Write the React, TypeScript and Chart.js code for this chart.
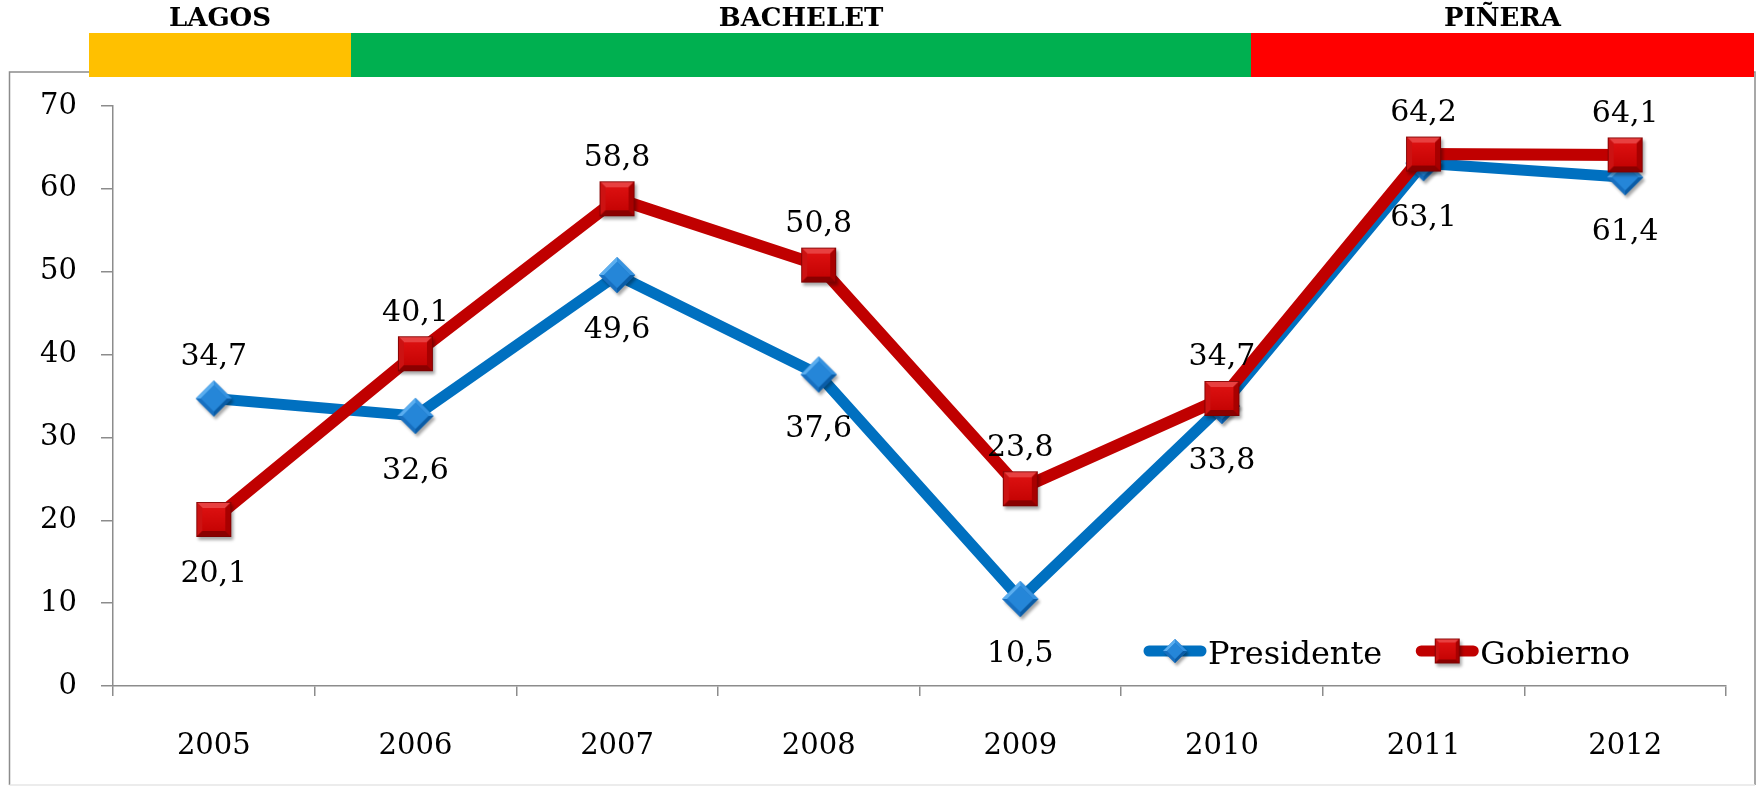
import React, { useEffect, useRef } from 'react';
import { Chart, registerables } from 'chart.js';

Chart.register(...registerables);

// ---- data ----
const years = ['2005', '2006', '2007', '2008', '2009', '2010', '2011', '2012'];
const presidente = [34.7, 32.6, 49.6, 37.6, 10.5, 33.8, 63.1, 61.4];
const gobierno = [20.1, 40.1, 58.8, 50.8, 23.8, 34.7, 64.2, 64.1];
const yMin = 0;
const yMax = 70;
const yStep = 10;
const periods = ['LAGOS', 'BACHELET', 'PIÑERA'];

// ---- presentation ----
const periodColors = ['#FFC000', '#00B050', '#FF0000'];
const periodBounds = [[89, 351], [351, 1251], [1251, 1754]];
const presidenteLabelPos = ['above', 'below', 'below', 'below', 'below', 'below', 'below', 'below'];
const gobiernoLabelPos = ['below', 'above', 'above', 'above', 'above', 'above', 'above', 'above'];

const FONT = "'DejaVu Serif', 'Liberation Serif', serif";
const W = 1758;
const H = 786;

type Pt = [number, number];
function poly(g: CanvasRenderingContext2D, pts: Pt[], fill: string) {
  g.beginPath();
  g.moveTo(pts[0][0], pts[0][1]);
  for (let i = 1; i < pts.length; i++) g.lineTo(pts[i][0], pts[i][1]);
  g.closePath();
  g.fillStyle = fill;
  g.fill();
}

function makeSquare(s: number): HTMLCanvasElement {
  const pad = 7;
  const c = document.createElement('canvas');
  c.width = s + pad * 2;
  c.height = s + pad * 2;
  const g = c.getContext('2d')!;
  const x0 = pad, y0 = pad, b = Math.round(s * 0.17);
  g.save();
  g.shadowColor = 'rgba(0,0,0,0.35)';
  g.shadowOffsetX = 2;
  g.shadowOffsetY = 3;
  g.shadowBlur = 3;
  g.fillStyle = '#B80000';
  g.fillRect(x0, y0, s, s);
  g.restore();
  poly(g, [[x0, y0], [x0 + s, y0], [x0 + s - b, y0 + b], [x0 + b, y0 + b]], '#E84040');
  poly(g, [[x0, y0], [x0 + b, y0 + b], [x0 + b, y0 + s - b], [x0, y0 + s]], '#CC1212');
  poly(g, [[x0 + s, y0], [x0 + s, y0 + s], [x0 + s - b, y0 + s - b], [x0 + s - b, y0 + b]], '#A80000');
  poly(g, [[x0, y0 + s], [x0 + b, y0 + s - b], [x0 + s - b, y0 + s - b], [x0 + s, y0 + s]], '#8A0000');
  const grd = g.createLinearGradient(0, y0 + b, 0, y0 + s - b);
  grd.addColorStop(0, '#DC1010');
  grd.addColorStop(1, '#C60404');
  g.fillStyle = grd;
  g.fillRect(x0 + b, y0 + b, s - 2 * b, s - 2 * b);
  g.strokeStyle = 'rgba(120,0,0,0.8)';
  g.lineWidth = 1;
  g.strokeRect(x0 + 0.5, y0 + 0.5, s - 1, s - 1);
  return c;
}

function makeDiamond(r: number): HTMLCanvasElement {
  const pad = 7;
  const c = document.createElement('canvas');
  c.width = 2 * r + pad * 2;
  c.height = 2 * r + pad * 2;
  const g = c.getContext('2d')!;
  const cx = r + pad, cy = r + pad, b = Math.round(r * 0.3), ri = r - b;
  const top: Pt = [cx, cy - r], right: Pt = [cx + r, cy], bottom: Pt = [cx, cy + r], left: Pt = [cx - r, cy];
  const iTop: Pt = [cx, cy - ri], iRight: Pt = [cx + ri, cy], iBottom: Pt = [cx, cy + ri], iLeft: Pt = [cx - ri, cy];
  g.save();
  g.shadowColor = 'rgba(0,0,0,0.35)';
  g.shadowOffsetX = 2;
  g.shadowOffsetY = 3;
  g.shadowBlur = 3;
  poly(g, [top, right, bottom, left], '#1A72C0');
  g.restore();
  poly(g, [top, iTop, iLeft, left], '#5AAEF0');
  poly(g, [top, right, iRight, iTop], '#3592E0');
  poly(g, [right, bottom, iBottom, iRight], '#0A5CA6');
  poly(g, [bottom, left, iLeft, iBottom], '#176FC0');
  poly(g, [iTop, iRight, iBottom, iLeft], '#2586D8');
  return c;
}

const fmt = (v: number) => v.toFixed(1).replace('.', ',');

export default function App() {
  const canvasRef = useRef<HTMLCanvasElement | null>(null);

  useEffect(() => {
    if (!canvasRef.current) return;
    const diamond = makeDiamond(18);
    const square = makeSquare(35);
    const diamondSmall = makeDiamond(12);
    const squareSmall = makeSquare(25);
    const legendImgs = [diamondSmall, squareSmall];
    const labelPos = [presidenteLabelPos, gobiernoLabelPos];

    const framePlugin = {
      id: 'frameAndHeader',
      beforeDraw(chart: any) {
        const ctx = chart.ctx as CanvasRenderingContext2D;
        ctx.save();
        ctx.fillStyle = '#ffffff';
        ctx.fillRect(0, 0, W, H);
        // outer frame
        ctx.strokeStyle = '#8C8C8C';
        ctx.lineWidth = 1.5;
        ctx.beginPath();
        ctx.moveTo(9.5, 785);
        ctx.lineTo(9.5, 72);
        ctx.lineTo(1755, 72);
        ctx.lineTo(1755, 785);
        ctx.stroke();
        ctx.strokeStyle = '#E6E6E6';
        ctx.beginPath();
        ctx.moveTo(9.5, 785);
        ctx.lineTo(1755, 785);
        ctx.stroke();
        // period bars
        periods.forEach((p, i) => {
          const [a, b] = periodBounds[i];
          ctx.fillStyle = periodColors[i];
          ctx.fillRect(a, 33, b - a, 44);
          ctx.fillStyle = '#000000';
          ctx.font = `bold 26px ${FONT}`;
          ctx.textAlign = 'center';
          ctx.textBaseline = 'alphabetic';
          ctx.fillText(p, (a + b) / 2, 26);
        });
        ctx.restore();
      },
    };

    const valueLabelPlugin = {
      id: 'valueLabels',
      afterDatasetsDraw(chart: any) {
        const ctx = chart.ctx as CanvasRenderingContext2D;
        ctx.save();
        ctx.font = `30px ${FONT}`;
        ctx.fillStyle = '#000000';
        ctx.textAlign = 'center';
        ctx.textBaseline = 'alphabetic';
        chart.data.datasets.forEach((ds: any, di: number) => {
          const meta = chart.getDatasetMeta(di);
          meta.data.forEach((el: any, i: number) => {
            const v = ds.data[i] as number;
            const pos = labelPos[di][i];
            const y = pos === 'above' ? el.y - 33 : el.y + 63;
            ctx.fillText(fmt(v), el.x, y);
          });
        });
        ctx.restore();
      },
    };

    const legendPlugin = {
      id: 'lineLegend',
      afterDraw(chart: any) {
        const ctx = chart.ctx as CanvasRenderingContext2D;
        ctx.save();
        ctx.font = `32px ${FONT}`;
        ctx.textBaseline = 'alphabetic';
        ctx.textAlign = 'left';
        let x = 1144;
        const y = 651;
        const lineLen = 62;
        chart.data.datasets.forEach((ds: any, di: number) => {
          ctx.strokeStyle = ds.borderColor;
          ctx.lineWidth = 11;
          ctx.lineCap = 'round';
          ctx.beginPath();
          ctx.moveTo(x + 5, y);
          ctx.lineTo(x + lineLen - 5, y);
          ctx.stroke();
          const img = legendImgs[di];
          ctx.drawImage(img, x + lineLen / 2 - img.width / 2, y - img.height / 2);
          ctx.fillStyle = '#000000';
          ctx.fillText(ds.label, x + lineLen + 2, y + 13);
          x += lineLen + 2 + ctx.measureText(ds.label).width + 34;
        });
        ctx.restore();
      },
    };

    const chart = new Chart(canvasRef.current, {
      type: 'line',
      data: {
        labels: years,
        datasets: [
          {
            label: 'Presidente',
            data: presidente,
            borderColor: '#0070C0',
            backgroundColor: '#0070C0',
            borderWidth: 11,
            pointStyle: diamond as any,
            pointRadius: 18,
            borderJoinStyle: 'round',
            tension: 0,
            order: 2,
          },
          {
            label: 'Gobierno',
            data: gobierno,
            borderColor: '#C00000',
            backgroundColor: '#C00000',
            borderWidth: 12,
            pointStyle: square as any,
            pointRadius: 18,
            borderJoinStyle: 'round',
            tension: 0,
            order: 1,
          },
        ],
      },
      options: {
        responsive: false,
        maintainAspectRatio: false,
        animation: false,
        devicePixelRatio: 1,
        layout: { padding: { top: 106, right: 32, left: 0, bottom: 0 } },
        plugins: {
          legend: { display: false },
          tooltip: { enabled: false },
        },
        scales: {
          x: {
            offset: true,
            afterFit: (s: any) => {
              s.height = 100;
            },
            grid: {
              display: true,
              drawOnChartArea: false,
              drawTicks: true,
              tickLength: 10,
              color: '#8C8C8C',
              lineWidth: 1.5,
              offset: true,
            },
            border: { display: true, color: '#8C8C8C', width: 1.5 },
            ticks: {
              font: { family: FONT, size: 29 },
              color: '#000000',
              padding: 33,
              maxRotation: 0,
            },
          },
          y: {
            min: yMin,
            max: yMax,
            afterFit: (s: any) => {
              s.width = 113;
            },
            grid: {
              display: true,
              drawOnChartArea: false,
              drawTicks: true,
              tickLength: 12,
              color: '#8C8C8C',
              lineWidth: 1.5,
            },
            border: { display: true, color: '#8C8C8C', width: 1.5 },
            ticks: {
              stepSize: yStep,
              font: { family: FONT, size: 29 },
              color: '#000000',
              padding: 24,
            },
          },
        },
      },
      plugins: [framePlugin, valueLabelPlugin, legendPlugin],
    });
    return () => chart.destroy();
  }, []);

  return (
    <div style={{ position: 'absolute', left: 0, top: 0, width: W, height: H, background: '#fff' }}>
      <canvas ref={canvasRef} width={W} height={H} style={{ width: W, height: H, display: 'block' }} />
    </div>
  );
}
